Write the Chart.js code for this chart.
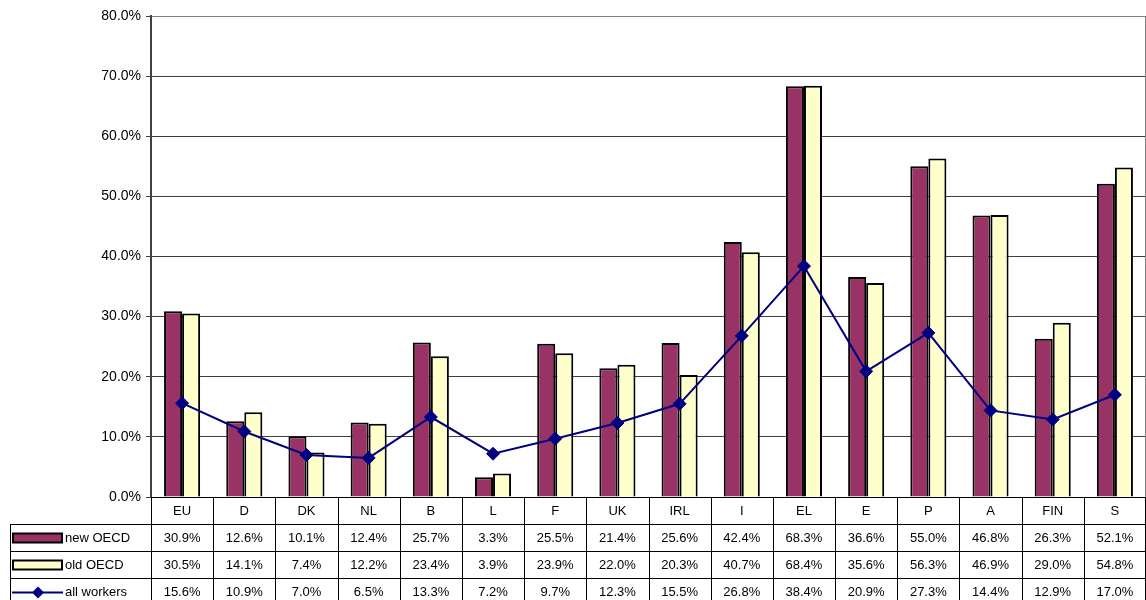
<!DOCTYPE html>
<html>
<head>
<meta charset="utf-8">
<script src="https://cdn.jsdelivr.net/npm/chart.js@4/dist/chart.umd.min.js"></script>
<style>
  html, body { margin: 0; padding: 0; background: #fff; overflow: hidden; }
  #c { display: block; }
</style>
</head>
<body>
<canvas id="c" width="1146" height="600"></canvas>
<script>
// Categories (EU average and member states)
const countries = ['EU', 'D', 'DK', 'NL', 'B', 'L', 'F', 'UK', 'IRL', 'I', 'EL', 'E', 'P', 'A', 'FIN', 'S'];

// Shares in percent
const newOECD    = [30.9, 12.6, 10.1, 12.4, 25.7, 3.3, 25.5, 21.4, 25.6, 42.4, 68.3, 36.6, 55.0, 46.8, 26.3, 52.1];
const oldOECD    = [30.5, 14.1,  7.4, 12.2, 23.4, 3.9, 23.9, 22.0, 20.3, 40.7, 68.4, 35.6, 56.3, 46.9, 29.0, 54.8];
const allWorkers = [15.6, 10.9,  7.0,  6.5, 13.3, 7.2,  9.7, 12.3, 15.5, 26.8, 38.4, 20.9, 27.3, 14.4, 12.9, 17.0];

// Value axis
const yMin = 0;
const yMax = 80;
const yStep = 10;

const seriesNames = ['new OECD', 'old OECD', 'all workers'];

const MAROON = '#993366';
const CREAM = '#FFFFCC';
const NAVY = '#000080';
const FONT = '"Liberation Sans", Arial, sans-serif';

// Data table drawn under the plot, columns aligned with the category scale
const dataTable = {
  id: 'dataTable',
  afterDraw(chart) {
    const { ctx, chartArea: a, scales: { x } } = chart;
    const n = countries.length;
    const half = (x.getPixelForValue(1) - x.getPixelForValue(0)) / 2;
    const top = a.bottom;
    const rowY = [top, top + 27, top + 54, top + 81];
    const bottom = chart.height;
    const left = 10;

    ctx.save();
    // right border of the plot
    ctx.strokeStyle = '#808080';
    ctx.lineWidth = 1;
    ctx.beginPath();
    ctx.moveTo(a.right - 0.5, a.top);
    ctx.lineTo(a.right - 0.5, a.bottom);
    ctx.stroke();

    // grid of the table
    ctx.strokeStyle = '#000';
    ctx.lineWidth = 1;
    ctx.beginPath();
    for (let i = 0; i <= n; i++) {
      const bx = i < n ? x.getPixelForValue(i) - half : x.getPixelForValue(n - 1) + half;
      const px = Math.min(Math.round(bx), a.right - 1) + 0.5;
      ctx.moveTo(px, top);
      ctx.lineTo(px, bottom);
    }
    for (let r = 1; r < rowY.length; r++) {
      ctx.moveTo(left, rowY[r] + 0.5);
      ctx.lineTo(a.right, rowY[r] + 0.5);
    }
    ctx.moveTo(left + 0.5, rowY[1]);
    ctx.lineTo(left + 0.5, bottom);
    ctx.stroke();

    // header: category names
    ctx.fillStyle = '#000';
    ctx.font = '13px ' + FONT;
    ctx.textAlign = 'center';
    ctx.textBaseline = 'middle';
    countries.forEach((c, i) => ctx.fillText(c, x.getPixelForValue(i), (rowY[0] + rowY[1]) / 2 + 1));

    // series rows
    const rows = [
      { name: seriesNames[0], values: newOECD, kind: 'bar', color: MAROON },
      { name: seriesNames[1], values: oldOECD, kind: 'bar', color: CREAM },
      { name: seriesNames[2], values: allWorkers, kind: 'line', color: NAVY }
    ];
    rows.forEach((row, r) => {
      const yTop = rowY[r + 1];
      const yBot = r + 2 < rowY.length ? rowY[r + 2] : yTop + 27;
      const cy = (yTop + yBot) / 2 + 1;

      // legend key
      if (row.kind === 'bar') {
        ctx.fillStyle = row.color;
        ctx.strokeStyle = '#000';
        ctx.lineWidth = 2;
        ctx.fillRect(13, cy - 5, 49, 9);
        ctx.strokeRect(13, cy - 5, 49, 9);
      } else {
        ctx.strokeStyle = row.color;
        ctx.fillStyle = row.color;
        ctx.lineWidth = 2;
        ctx.beginPath();
        ctx.moveTo(12, cy);
        ctx.lineTo(63, cy);
        ctx.stroke();
        const dx = 38, d = 6;
        ctx.beginPath();
        ctx.moveTo(dx, cy - d);
        ctx.lineTo(dx + d, cy);
        ctx.lineTo(dx, cy + d);
        ctx.lineTo(dx - d, cy);
        ctx.closePath();
        ctx.fill();
      }
      ctx.fillStyle = '#000';
      ctx.font = '13px ' + FONT;
      ctx.textAlign = 'left';
      ctx.fillText(row.name, 65, cy);

      ctx.textAlign = 'center';
      row.values.forEach((v, i) => ctx.fillText(v.toFixed(1) + '%', x.getPixelForValue(i), cy));
    });
    ctx.restore();
  }
};

new Chart(document.getElementById('c'), {
  data: {
    labels: countries,
    datasets: [
      {
        type: 'line',
        label: seriesNames[2],
        data: allWorkers,
        borderColor: NAVY,
        backgroundColor: NAVY,
        borderWidth: 2,
        pointStyle: 'rectRot',
        pointRadius: 6.5,
        pointBackgroundColor: NAVY,
        pointBorderColor: NAVY,
        pointBorderWidth: 1,
        tension: 0,
        order: 0
      },
      {
        type: 'bar',
        label: seriesNames[0],
        data: newOECD,
        backgroundColor: MAROON,
        borderColor: '#000',
        borderWidth: 2,
        categoryPercentage: 0.58,
        barPercentage: 1.0,
        order: 1
      },
      {
        type: 'bar',
        label: seriesNames[1],
        data: oldOECD,
        backgroundColor: CREAM,
        borderColor: '#000',
        borderWidth: 2,
        categoryPercentage: 0.58,
        barPercentage: 1.0,
        order: 1
      }
    ]
  },
  options: {
    responsive: false,
    animation: false,
    devicePixelRatio: 1,
    layout: { autoPadding: false, padding: { left: 0, right: 0, top: 16, bottom: 103 } },
    plugins: {
      legend: { display: false },
      tooltip: { enabled: false }
    },
    scales: {
      x: {
        type: 'category',
        display: false,
        offset: true
      },
      y: {
        min: yMin,
        max: yMax,
        afterFit(scale) { scale.width = 151; },
        border: { display: true, color: '#404040', width: 2 },
        grid: {
          color: (c) => c.tick.value === yMax ? '#808080' : (c.tick.value === yMin ? '#000' : '#404040'),
          lineWidth: 1,
          drawTicks: true,
          tickLength: 5,
          tickColor: '#404040'
        },
        ticks: {
          stepSize: yStep,
          padding: 5,
          color: '#000',
          font: { family: FONT, size: 14 },
          callback: (v) => v.toFixed(1) + '%'
        }
      }
    }
  },
  plugins: [dataTable]
});
</script>
</body>
</html>
